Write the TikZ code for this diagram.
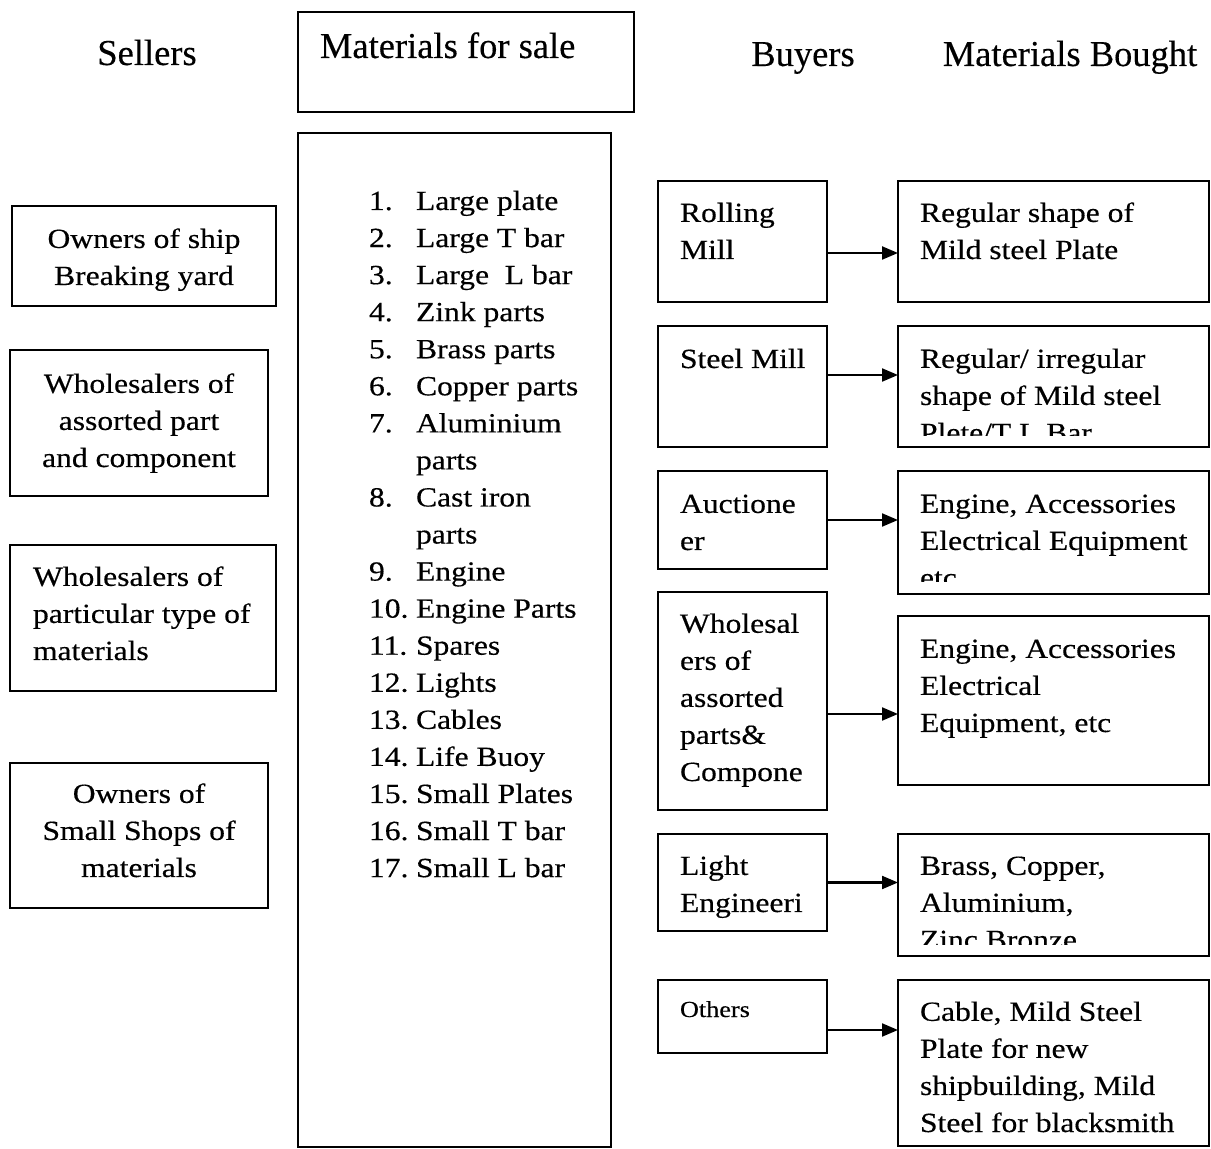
\documentclass[tikz,border=0pt]{standalone}
\usepackage{fontspec}
\setmainfont{Liberation Serif}
\newfontfamily\bodyfont[FakeStretch=1.14,FakeBold=0.4]{Liberation Serif}
\newfontfamily\hdrfont[FakeBold=0.3]{Liberation Serif}
\usetikzlibrary{arrows.meta}
\tikzset{
  box/.style={draw, line width=1.3pt, rectangle, inner sep=0pt, outer sep=0pt},
  txt/.style={inner sep=0pt, outer sep=0pt, align=left, yshift=-1.5pt,
    font=\bodyfont\fontsize{13.85pt}{18.53pt}\selectfont},
  smalltxt/.style={inner sep=0pt, outer sep=0pt, yshift=-1.5pt,
    font=\bodyfont\fontsize{11.5pt}{14pt}\selectfont},
  hdr/.style={inner sep=0pt, outer sep=0pt, yshift=-1pt,
    font=\hdrfont\fontsize{18.25pt}{21pt}\selectfont},
  arr/.style={line width=1.1pt, -{Triangle[length=8pt,width=6.5pt]}},
}
\newcommand\bx[5]{\node[box, anchor=north west,
  minimum width={(#4-#2)*0.5pt}, minimum height={(#5-#3)*0.5pt}] (#1) at (#2,#3) {};}
\begin{document}
\begin{tikzpicture}[x=0.5pt,y=-0.5pt]
\useasboundingbox (0,0) rectangle (1211,1149);

% headers
\node[hdr, anchor=base] (hsel) at (147,63) {Sellers};
\bx{hm}{298}{12}{634}{112}
\node[hdr, anchor=base west] (hmt) at (320,56) {Materials for sale};
\node[hdr, anchor=base] (hbuy) at (803,64) {Buyers};
\node[hdr, anchor=base] (hbought) at (1070,64) {Materials Bought};

% sellers (base anchor = baseline of last line)
\bx{s1}{12}{206}{276}{306}
\node[txt, align=center, anchor=base] (s1t) at (144,282) {Owners of ship\\Breaking yard};
\bx{s2}{10}{350}{268}{496}
\node[txt, align=center, anchor=base] (s2t) at (139,464) {Wholesalers of\\assorted part\\and component};
\bx{s3}{10}{545}{276}{691}
\node[txt, anchor=base west] (s3t) at (33,657) {Wholesalers of\\particular type of\\materials};
\bx{s4}{10}{763}{268}{908}
\node[txt, align=center, anchor=base] (s4t) at (139,874) {Owners of\\Small Shops of\\materials};

% materials list
\bx{lb}{298}{133}{611}{1147}
\foreach \n/\t [count=\i] in {1./Large plate, 2./Large T bar, 3./Large \ L bar,
  4./Zink parts, 5./Brass parts, 6./Copper parts, 7./Aluminium, /parts,
  8./Cast iron, /parts, 9./Engine, 10./Engine Parts, 11./Spares, 12./Lights,
  13./Cables, 14./Life Buoy, 15./Small Plates, 16./Small T bar, 17./Small L bar}{
  \node[txt, anchor=base west] (ln\i) at (369,{207+(\i-1)*37.06}) {\n};
  \node[txt, anchor=base west] (lt\i) at (416,{207+(\i-1)*37.06}) {\t};
}

% buyers
\bx{b1}{658}{181}{827}{302}
\node[txt, anchor=base west] (b1t) at (680,256) {Rolling\\Mill};
\bx{b2}{658}{326}{827}{447}
\node[txt, anchor=base west] (b2t) at (680,365) {Steel Mill};
\bx{b3}{658}{471}{827}{569}
\node[txt, anchor=base west] (b3t) at (680,547) {Auctione\\er};
\bx{b4}{658}{592}{827}{810}
\node[txt, anchor=base west] (b4t) at (680,778) {Wholesal\\ers of\\assorted\\parts\&\\Compone};
\bx{b5}{658}{834}{827}{931}
\node[txt, anchor=base west] (b5t) at (680,909) {Light\\Engineeri};
\bx{b6}{658}{980}{827}{1053}
\node[smalltxt, anchor=base west] (b6t) at (680,1014) {Others};

% materials bought
\bx{m1}{898}{181}{1209}{302}
\node[txt, anchor=base west] (m1t) at (920,256) {Regular shape of\\Mild steel Plate};
\bx{m2}{898}{326}{1209}{447}
\begin{scope}
  \clip (898,326) rectangle (1209,436);
  \node[txt, anchor=base west] (m2t) at (920,439) {Regular/ irregular\\shape of Mild steel\\Plete/T L Bar};
\end{scope}
\bx{m3}{898}{471}{1209}{594}
\begin{scope}
  \clip (898,471) rectangle (1209,582);
  \node[txt, anchor=base west] (m3t) at (920,584) {Engine, Accessories\\Electrical Equipment\\etc};
\end{scope}
\bx{m4}{898}{616}{1209}{785}
\node[txt, anchor=base west] (m4t) at (920,729) {Engine, Accessories\\Electrical\\Equipment, etc};
\bx{m5}{898}{834}{1209}{956}
\begin{scope}
  \clip (898,834) rectangle (1209,944);
  \node[txt, anchor=base west] (m5t) at (920,946) {Brass, Copper,\\Aluminium,\\Zinc Bronze};
\end{scope}
\bx{m6}{898}{980}{1209}{1146}
\node[txt, anchor=base west] (m6t) at (920,1129) {Cable, Mild Steel\\Plate for new\\shipbuilding, Mild\\Steel for blacksmith};

% arrows
\path ([yshift=-5.75pt]b1.east) coordinate (a1);
\draw[arr] (a1) -- (a1 -| m1.west);
\path ([yshift=5.75pt]b2.east) coordinate (a2);
\draw[arr] (a2) -- (a2 -| m2.west);
\draw[arr] (b3.east) -- (b3.east -| m3.west);
\path ([yshift=-6.5pt]b4.east) coordinate (a4);
\draw[arr] (a4) -- (a4 -| m4.west);
\draw[arr] (b5.east) -- (b5.east -| m5.west);
\path ([yshift=-6.75pt]b6.east) coordinate (a6);
\draw[arr] (a6) -- (a6 -| m6.west);
\end{tikzpicture}
\end{document}
